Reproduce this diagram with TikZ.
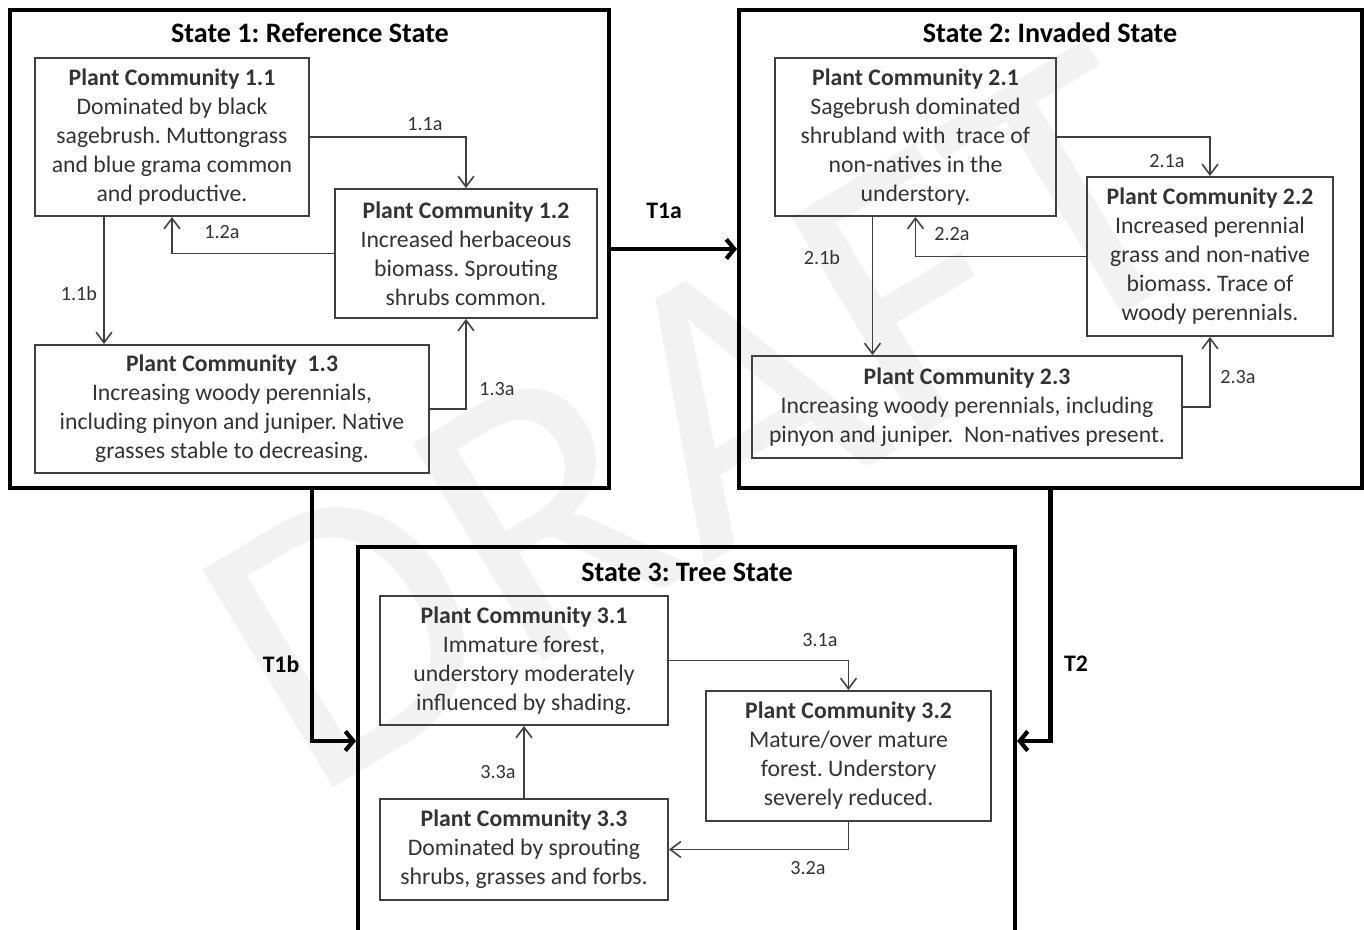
\documentclass[tikz,border=0pt]{standalone}
\usepackage{fontspec}
\setmainfont{Carlito}
\usetikzlibrary{arrows.meta,calc}
\frenchspacing

\newdimen\pxu
\pxu=0.02cm

\tikzset{
  pcbox/.style={draw=black!75, line width=1.1pt, align=center, inner sep=0pt,
    text=black!80, font=\fontsize{13.5}{16.5}\selectfont},
  statebox/.style={draw=black, line width=2.3pt, inner sep=0pt},
  statetitle/.style={font=\fontsize{16}{19}\selectfont\bfseries},
  conn/.style={draw=black!75, line width=0.9pt, -{Straight Barb[length=6pt,width=9pt]}},
  trans/.style={line width=2.4pt, -{Straight Barb[length=4.5pt,width=11pt]}},
  lbl/.style={font=\fontsize{11.5}{13}\selectfont, text=black!80},
  tlbl/.style={font=\fontsize{13.5}{16}\selectfont\bfseries},
  watermark/.style={text=black!5, rotate=31, font=\fontsize{225}{225}\selectfont},
}

\begin{document}
\begin{tikzpicture}[x=0.02cm, y=-0.02cm]
  % Page the size of the picture
  \useasboundingbox (0,0) rectangle (1364,929);

  % Faint watermark behind everything
  \node[watermark] (wm) at (700,420) {DRAFT};

  % State 1 with its plant communities
  \node[statebox, minimum width=599\pxu, minimum height=478\pxu] (s1) at (309.5,249) {};
  \node[statetitle] (t1) at (310,33) {State 1: Reference State};
  \node[pcbox, minimum width=274\pxu, minimum height=158\pxu] (pc11) at (172,137)
    {\textbf{Plant Community 1.1}\\Dominated by black\\sagebrush. Muttongrass\\and blue grama common\\and productive.};
  \node[pcbox, minimum width=262\pxu, minimum height=129\pxu] (pc12) at (466,253.5)
    {\textbf{Plant Community 1.2}\\Increased herbaceous\\biomass. Sprouting\\shrubs common.};
  \node[pcbox, minimum width=394\pxu, minimum height=128\pxu] (pc13) at (232,409)
    {\textbf{Plant Community\ \ 1.3}\\Increasing woody perennials,\\including pinyon and juniper. Native\\grasses stable to decreasing.};

  % State 2 with its plant communities
  \node[statebox, minimum width=623\pxu, minimum height=478\pxu] (s2) at (1050.5,249) {};
  \node[statetitle] (t2) at (1050,33) {State 2: Invaded State};
  \node[pcbox, minimum width=281\pxu, minimum height=158\pxu] (pc21) at (915.5,137)
    {\textbf{Plant Community 2.1}\\Sagebrush dominated\\shrubland with\ \ trace of\\non-natives in the\\understory.};
  \node[pcbox, minimum width=246\pxu, minimum height=159\pxu] (pc22) at (1210,256.5)
    {\textbf{Plant Community 2.2}\\Increased perennial\\grass and non-native\\biomass. Trace of\\woody perennials.};
  \node[pcbox, minimum width=430\pxu, minimum height=102\pxu] (pc23) at (967,407)
    {\textbf{Plant Community 2.3}\\Increasing woody perennials, including\\pinyon and juniper.\ \ Non-natives present.};

  % State 3 with its plant communities
  \node[statebox, minimum width=657\pxu, minimum height=388\pxu] (s3) at (686.5,741) {};
  \node[statetitle] (t3) at (687,572) {State 3: Tree State};
  \node[pcbox, minimum width=288\pxu, minimum height=129\pxu] (pc31) at (524,660.5)
    {\textbf{Plant Community 3.1}\\Immature forest,\\understory moderately\\influenced by shading.};
  \node[pcbox, minimum width=285\pxu, minimum height=130\pxu] (pc32) at (848.5,756)
    {\textbf{Plant Community 3.2}\\Mature/over mature\\forest. Understory\\severely reduced.};
  \node[pcbox, minimum width=288\pxu, minimum height=101\pxu] (pc33) at (524,849.5)
    {\textbf{Plant Community 3.3}\\Dominated by sprouting\\shrubs, grasses and forbs.};

  % Pathways inside State 1
  \draw[conn] (pc11.east) -| (pc12.north);
  \draw[conn] (pc12.west) -| (pc11.south);
  \coordinate (c11b) at ($(pc11.south)+(-68,0)$);
  \draw[conn] (c11b) -- (c11b |- pc13.north);
  \draw[conn] (pc13.east) -| (pc12.south);
  \node[lbl] (l11a) at (425,124) {1.1a};
  \node[lbl] (l12a) at (222,232) {1.2a};
  \node[lbl] (l11b) at (79,294) {1.1b};
  \node[lbl] (l13a) at (497,389) {1.3a};

  % Pathways inside State 2
  \draw[conn] (pc21.east) -| (pc22.north);
  \draw[conn] (pc22.west) -| (pc21.south);
  \coordinate (c21b) at ($(pc21.south)+(-43,0)$);
  \draw[conn] (c21b) -- (c21b |- pc23.north);
  \draw[conn] (pc23.east) -| (pc22.south);
  \node[lbl] (l21a) at (1167,161) {2.1a};
  \node[lbl] (l22a) at (952,234) {2.2a};
  \node[lbl] (l21b) at (822,258) {2.1b};
  \node[lbl] (l23a) at (1238,377) {2.3a};

  % Pathways inside State 3
  \draw[conn] (pc31.east) -| (pc32.north);
  \draw[conn] (pc33.north) -- (pc31.south);
  \draw[conn] (pc32.south) |- (pc33.east);
  \node[lbl] (l31a) at (820,640) {3.1a};
  \node[lbl] (l33a) at (498,772) {3.3a};
  \node[lbl] (l32a) at (808,868) {3.2a};

  % Transitions between states
  \draw[trans] (s1.east) -- (s2.west);
  \coordinate (c1b) at ($(s1.south)+(2.5,0)$);
  \draw[trans] (c1b) |- (s3.west);
  \draw[trans] (s2.south) |- (s3.east);
  \node[tlbl] (lt1a) at (664,211) {T1a};
  \node[tlbl] (lt1b) at (281,664) {T1b};
  \node[tlbl] (lt2) at (1076,664) {T2};
\end{tikzpicture}
\end{document}
